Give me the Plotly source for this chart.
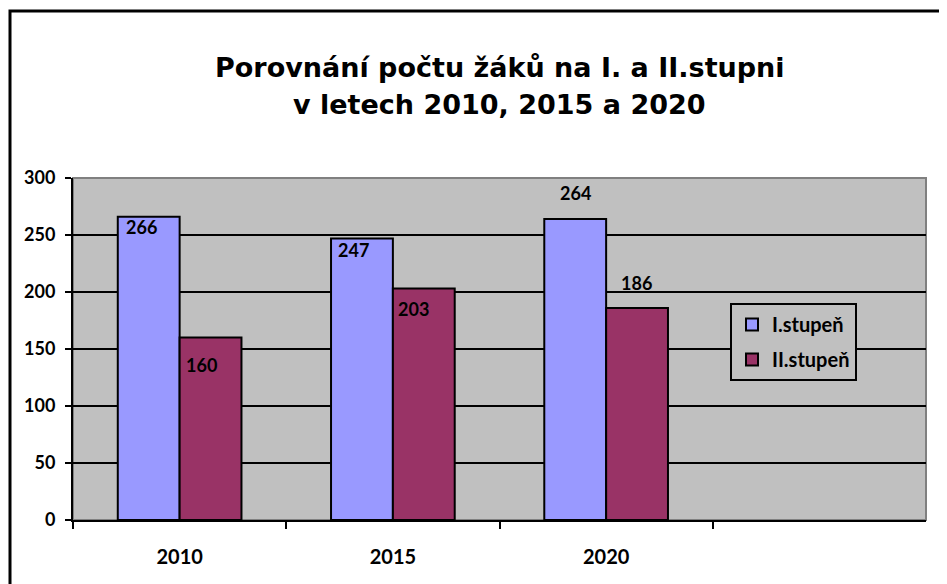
import plotly.graph_objects as go

# data
years = ["2010", "2015", "2020"]
prvni_stupen = [266, 247, 264]
druhy_stupen = [160, 203, 186]
series_names = ["I.stupeň", "II.stupeň"]

title_lines = ["Porovnání počtu žáků na I. a II.stupni", "v letech 2010, 2015 a 2020"]

# styles (page has an 8px body margin, so the figure is 8px smaller)
W, H = 939, 576
ml, mr, mt, mb = 65, 21, 170, 64
blue = "#9999FF"
maroon = "#993366"
plotbg = "#C0C0C0"
lblfont = dict(family="Lato", size=18, color="black", weight="bold")
pw = W - ml - mr
ph = H - mt - mb

fig = go.Figure()
fig.add_trace(go.Bar(x=years, y=prvni_stupen, name=series_names[0], legendgroup="a",
                     marker=dict(color=blue, line=dict(color="black", width=2))))
fig.add_trace(go.Bar(x=years, y=druhy_stupen, name=series_names[1], legendgroup="b",
                     marker=dict(color=maroon, line=dict(color="black", width=2))))

# value labels, shifted in px like the hand placed labels of the original
yshift1 = [-10, -12, 26]
yshift2 = [-27, -20, 25]
xshift1 = [-38, -39, -31]
xshift2 = [22, 21, 30]
for i in range(len(years)):
    fig.add_annotation(x=i, y=prvni_stupen[i], xref="x", yref="y",
                       text=str(prvni_stupen[i]), showarrow=False,
                       xshift=xshift1[i], yshift=yshift1[i], font=lblfont)
    fig.add_annotation(x=i, y=druhy_stupen[i], xref="x", yref="y",
                       text=str(druhy_stupen[i]), showarrow=False,
                       xshift=xshift2[i], yshift=yshift2[i], font=lblfont)

# title, two lines
title_y = [67 - 8, 105 - 8]
for txt, ty in zip(title_lines, title_y):
    fig.add_annotation(x=0.5, y=1 + (mt - ty) / ph, xref="paper", yref="paper",
                       text=txt, showarrow=False, xanchor="center", yanchor="middle",
                       font=dict(family="DejaVu Sans", size=27, color="black", weight="bold"))

# outer chart border, bottom and right edges run off the picture
fig.add_shape(type="rect", xref="paper", yref="paper",
              x0=(2 - ml) / pw, x1=(W + 10 - ml) / pw,
              y0=-(mb + 20) / ph, y1=1 + (mt - 3) / ph,
              line=dict(color="black", width=3), layer="below")
# plot area frame
fig.add_shape(type="rect", xref="paper", yref="paper", x0=0, x1=1, y0=0, y1=1,
              line=dict(color="#808080", width=2), layer="below")

fig.update_layout(
    width=W, height=H,
    margin=dict(l=ml, r=mr, t=mt, b=mb),
    paper_bgcolor="white",
    plot_bgcolor=plotbg,
    barmode="group",
    bargap=0.42,
    bargroupgap=0,
    showlegend=True,
    legend=dict(x=(722 - ml) / pw, y=(512 - 295) / ph, xanchor="left", yanchor="top",
                bgcolor=plotbg, bordercolor="black", borderwidth=2,
                font=dict(family="Lato", size=20, color="black", weight="bold"),
                traceorder="grouped", tracegroupgap=6, itemsizing="constant",
                itemwidth=30),
    xaxis=dict(type="category", categoryorder="array", categoryarray=years,
               range=[-0.5, 3.5], tickson="boundaries", ticks="outside", ticklen=7,
               tickwidth=2, tickcolor="black", showline=True, linecolor="black",
               linewidth=2, showgrid=False, ticklabelstandoff=18,
               tickfont=dict(family="Lato", size=20, color="black", weight="bold")),
    yaxis=dict(range=[0, 300], dtick=50, ticks="outside", ticklen=6, tickwidth=2,
               tickcolor="black", showline=True, linecolor="black", linewidth=2,
               showgrid=True, gridcolor="black", gridwidth=2, zeroline=False,
               ticklabelstandoff=6,
               tickfont=dict(family="Lato", size=18, color="black", weight="bold")),
)

fig.write_html("out.html")
